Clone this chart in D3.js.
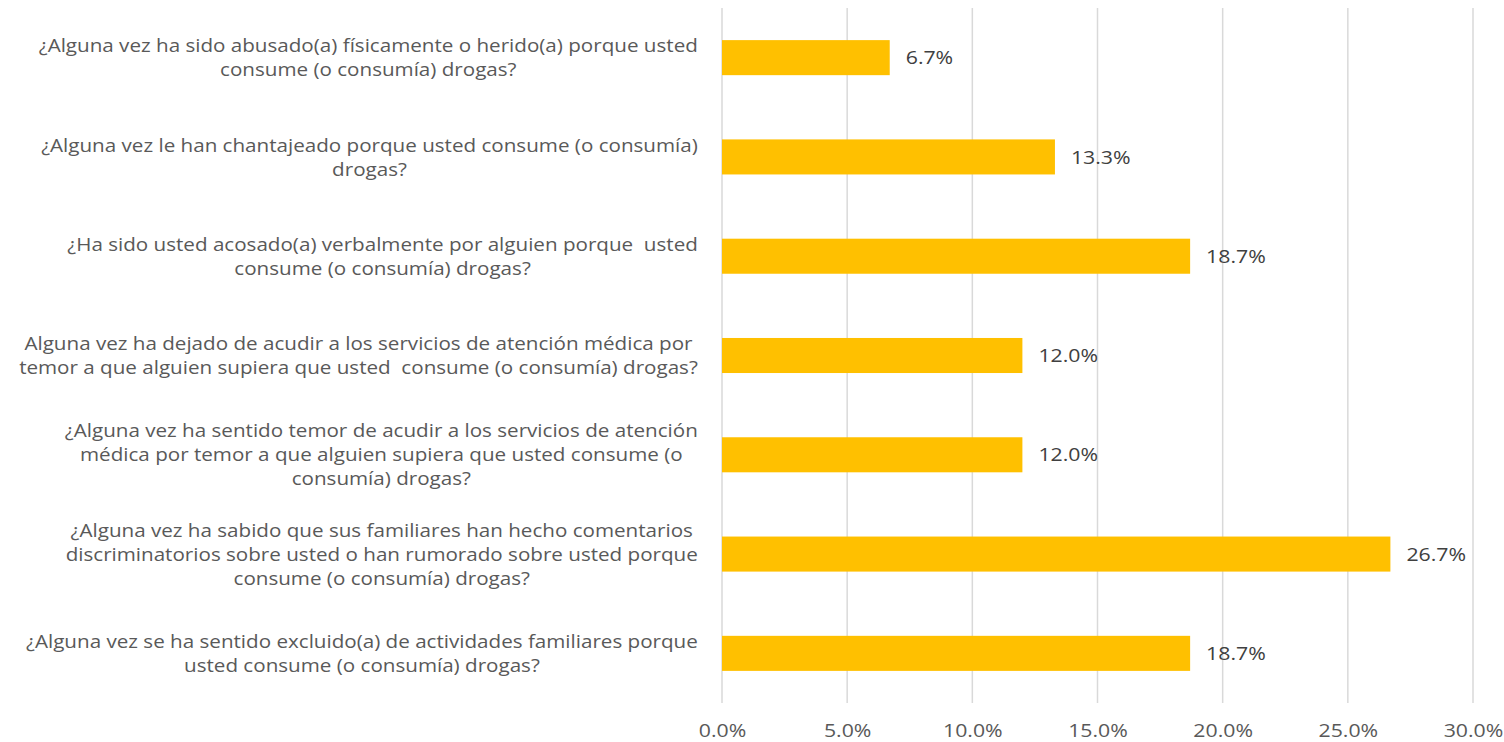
<!DOCTYPE html>
<html>
<head>
<meta charset="utf-8">
<script src="https://cdn.jsdelivr.net/npm/d3@7"></script>
<style>
  html, body { margin: 0; padding: 0; background: #fff; }
  svg { display: block; font-family: "Open Sans", sans-serif; }
</style>
</head>
<body>
<svg id="chart" width="1504" height="742"></svg>
<script>
'use strict';

// Category labels, already broken into lines as in the original
const categories = [
  ['¿Alguna vez ha sido abusado(a) físicamente o herido(a) porque usted',
   'consume (o consumía) drogas?'],
  ['¿Alguna vez le han chantajeado porque usted consume (o consumía)',
   'drogas?'],
  ['¿Ha sido usted acosado(a) verbalmente por alguien porque  usted',
   'consume (o consumía) drogas?'],
  ['Alguna vez ha dejado de acudir a los servicios de atención médica por',
   'temor a que alguien supiera que usted  consume (o consumía) drogas?'],
  ['¿Alguna vez ha sentido temor de acudir a los servicios de atención',
   'médica por temor a que alguien supiera que usted consume (o',
   'consumía) drogas?'],
  ['¿Alguna vez ha sabido que sus familiares han hecho comentarios',
   'discriminatorios sobre usted o han rumorado sobre usted porque',
   'consume (o consumía) drogas?'],
  ['¿Alguna vez se ha sentido excluido(a) de actividades familiares porque',
   'usted consume (o consumía) drogas?'],
];

const values = [0.067, 0.133, 0.187, 0.120, 0.120, 0.267, 0.187];

const xTicks = [0, 0.05, 0.10, 0.15, 0.20, 0.25, 0.30];

const BAR_COLOR   = '#FFC000';
const GRID_COLOR  = '#D9D9D9';
const TEXT_COLOR  = '#595959';
const LABEL_COLOR = '#404040';
const FONT_SIZE   = 19;
const STRETCH     = 1.12;   // original font is set wider than Open Sans
const CAT_STRETCH = 1.085;
const LINE_HEIGHT = 24;

const svg = d3.select('#chart');
const margin = { top: 8, right: 31, bottom: 39, left: 722 };
const width  = 1504;
const height = 742;

const x = d3.scaleLinear()
  .domain([0, 0.30])
  .range([margin.left, width - margin.right]);

const y = d3.scaleBand()
  .domain(d3.range(categories.length))
  .range([margin.top, height - margin.bottom])
  .paddingInner(0.647)
  .paddingOuter(0.3235);

const pct = d3.format('.1%');

// ── Gridlines ─────────────────────────────────────────────────
svg.append('g')
  .selectAll('line')
  .data(xTicks)
  .join('line')
    .attr('x1', d => x(d))
    .attr('x2', d => x(d))
    .attr('y1', margin.top)
    .attr('y2', height - margin.bottom)
    .attr('stroke', GRID_COLOR)
    .attr('stroke-width', 1.5);

// ── X axis tick labels ────────────────────────────────────────
const xAxis = d3.axisBottom(x)
  .tickValues(xTicks)
  .tickFormat(pct)
  .tickSize(0)
  .tickPadding(0);

const axisG = svg.append('g')
  .attr('transform', `translate(0,${height - margin.bottom + 21})`)
  .call(xAxis)
  .attr('font-family', null)
  .attr('font-size', null);
axisG.select('.domain').remove();
axisG.selectAll('text')
  .attr('fill', TEXT_COLOR)
  .attr('font-size', FONT_SIZE)
  .attr('dy', '0.71em')
  .attr('transform', `scale(${STRETCH},1)`);

// ── Bars ──────────────────────────────────────────────────────
svg.append('g')
  .selectAll('rect')
  .data(values)
  .join('rect')
    .attr('x', x(0))
    .attr('y', (d, i) => y(i))
    .attr('width', d => x(d) - x(0))
    .attr('height', y.bandwidth())
    .attr('fill', BAR_COLOR);

// ── Value labels ──────────────────────────────────────────────
svg.append('g')
  .selectAll('text')
  .data(values)
  .join('text')
    .attr('transform', (d, i) =>
      `translate(${x(d) + 16},${y(i) + y.bandwidth() / 2}) scale(${STRETCH},1)`)
    .attr('dy', '0.35em')
    .attr('font-size', FONT_SIZE)
    .attr('fill', LABEL_COLOR)
    .text(d => pct(d));

// ── Category labels (centered lines, block right-aligned) ─────
const labelRight = margin.left - 24;
const catG = svg.append('g');

categories.forEach((lines, i) => {
  const cy = y(i) + y.bandwidth() / 2;
  const g = catG.append('g');
  const texts = g.selectAll('text')
    .data(lines)
    .join('text')
      .attr('font-size', FONT_SIZE)
      .attr('fill', TEXT_COLOR)
      .attr('text-anchor', 'middle')
      .attr('y', (d, j) => cy + (j - (lines.length - 1) / 2) * LINE_HEIGHT)
      .attr('dy', '0.35em')
      .attr('xml:space', 'preserve')
      .text(d => d);
  let maxW = 0;
  texts.each(function() { maxW = Math.max(maxW, this.getComputedTextLength()); });
  const sx = Math.min(CAT_STRETCH, (labelRight - 12) / maxW);
  texts.attr('x', 0);
  g.attr('transform', `translate(${labelRight - maxW * sx / 2},0) scale(${sx},1)`);
});
</script>
</body>
</html>
